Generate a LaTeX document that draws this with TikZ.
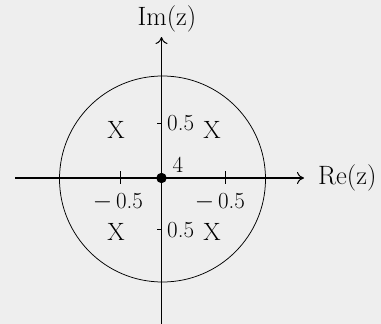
\documentclass[tikz,border=0pt]{standalone}
\usepackage{fontspec}
\usetikzlibrary{arrows.meta}
\begin{document}
\begin{tikzpicture}[x=1pt,y=-1pt,
  big/.style={inner sep=0pt,font=\fontsize{26.5}{28}\selectfont},
  lbl/.style={inner sep=0pt,font=\fontsize{25}{26}\selectfont},
  num/.style={inner sep=0pt,font=\fontsize{23}{24}\selectfont},
  axis/.style={line width=1.2pt,-{To[length=7pt,width=12pt,line width=1pt]}},
  tick/.style={line width=1pt}]
\fill[gray!13] (0,0) rectangle (381,324);
\useasboundingbox (0,0) rectangle (381,324);
\coordinate (O) at (161.5,178);
\coordinate (xl) at (15,178);
\coordinate (xr) at (304,178);
\coordinate (yb) at (161.5,324);
\coordinate (yt) at (161.5,37);
\draw[line width=0.75pt] (162.5,179) circle (103);
\draw[axis] (xl) -- (xr);
\draw[axis] (yb) -- (yt);
\draw[tick] (120,171) -- (120,184);
\draw[tick] (225,171) -- (225,184);
\draw[tick] (157,123) -- (161.5,123);
\draw[tick] (157,229) -- (161.5,229);
\fill (O) circle (5.2);
\node[big,anchor=base] (im) at (167,26) {Im(z)};
\node[big,anchor=base west] (re) at (318,184) {Re(z)};
\node[num,anchor=base] (four) at (178,172) {4};
\node[num,anchor=base west] (t1) at (167,130) {0.5};
\node[num,anchor=base west] (t2) at (167,237) {0.5};
\node[num,anchor=base] (m1) at (118,208) {$-$\,0.5};
\node[num,anchor=base] (m2) at (220,208) {$-$\,0.5};
\node[lbl,anchor=base] (x1) at (116,138) {X};
\node[lbl,anchor=base] (x2) at (212,138) {X};
\node[lbl,anchor=base] (x3) at (116,240) {X};
\node[lbl,anchor=base] (x4) at (212,240) {X};
\end{tikzpicture}
\end{document}
